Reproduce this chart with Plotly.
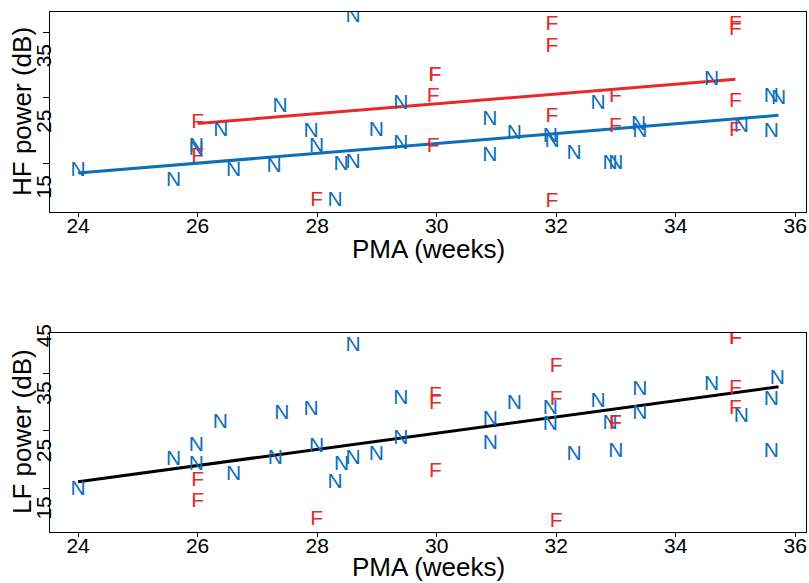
import plotly.graph_objects as go

# ---------------- data ----------------
# Top panel: HF power (dB)
hf_n_pma = [24.0, 25.6, 25.98, 25.98, 26.39, 26.6, 27.28, 27.38, 27.9, 27.99, 28.3, 28.4, 28.6, 28.6,
            28.99, 29.4, 29.4, 30.89, 30.89, 31.3, 31.9, 31.93, 32.3, 32.7, 32.9, 33.0, 33.38, 33.4,
            34.6, 35.1, 35.6, 35.6, 35.72]
hf_n_val = [18.9, 17.4, 22.5, 22.0, 25.0, 18.9, 19.4, 28.6, 24.8, 22.5, 14.35, 19.8, 42.3, 20.0,
            25.0, 29.1, 23.0, 26.6, 21.2, 24.5, 24.0, 23.25, 21.5, 29.1, 19.95, 19.85, 25.8, 24.8,
            32.7, 25.5, 30.1, 24.8, 29.9]
hf_f_pma = [26.0, 26.0, 27.99, 29.97, 29.97, 29.94, 29.94, 31.93, 31.93, 31.93, 31.93,
            32.99, 32.99, 35.0, 35.0, 35.0, 35.0]
hf_f_val = [26.1, 21.0, 14.35, 33.4, 33.4, 30.1, 22.5, 41.1, 37.8, 27.1, 14.1,
            30.1, 25.5, 41.1, 40.3, 29.4, 25.0]
hf_fit_n_x = [24.0, 35.72]
hf_fit_n_y = [18.5, 27.3]
hf_fit_f_x = [26.0, 35.0]
hf_fit_f_y = [26.05, 32.8]

# Bottom panel: LF power (dB)
lf_n_pma = [24.0, 25.6, 25.98, 25.98, 26.38, 26.6, 27.3, 27.41, 27.9, 27.99, 28.3, 28.41, 28.6, 28.6,
            28.99, 29.4, 29.4, 30.9, 30.9, 31.3, 31.9, 31.9, 32.3, 32.7, 32.9, 33.0, 33.4, 33.4,
            34.6, 35.1, 35.6, 35.6, 35.7]
lf_n_val = [19.7, 24.9, 27.5, 24.2, 31.4, 22.3, 25.2, 33.0, 33.7, 27.2, 20.9, 24.2, 44.9, 25.2,
            25.8, 35.65, 28.7, 31.9, 27.8, 34.8, 33.9, 31.0, 25.8, 35.1, 31.3, 26.4, 37.1, 33.0,
            38.1, 32.5, 35.4, 26.4, 39.1]
lf_f_pma = [26.0, 26.0, 27.99, 29.98, 29.98, 29.98, 32.0, 32.0, 32.0, 32.99, 32.99,
            35.0, 35.0, 35.0, 35.0]
lf_f_val = [21.4, 17.7, 14.5, 36.2, 34.8, 22.9, 41.2, 35.4, 14.2, 31.3, 31.3,
            46.1, 46.1, 37.4, 33.9]
lf_fit_x = [24.0, 35.72]
lf_fit_y = [21.15, 37.7]

x_ticks = [24, 26, 28, 30, 32, 34, 36]
hf_minor_ticks = [20, 30, 40]
hf_label_ticks = [15, 25, 35]
lf_minor_ticks = [20, 30, 40]
lf_label_ticks = [15, 25, 35, 45]

x_title = "PMA (weeks)"
hf_title = "HF power (dB)"
lf_title = "LF power (dB)"

BLUE = "#0B6FBA"
RED = "#E8282B"
FONT = "Liberation Sans, Arial, sans-serif"

fig = go.Figure()

def letters(x, y, ch, color, xa, ya):
    fig.add_trace(go.Scatter(x=x, y=y, mode="text", text=[ch] * len(x),
                             textposition="middle center",
                             textfont=dict(family=FONT, size=21, color=color),
                             xaxis=xa, yaxis=ya, showlegend=False, hoverinfo="skip"))

def line(x, y, color, xa, ya):
    fig.add_trace(go.Scatter(x=x, y=y, mode="lines", line=dict(color=color, width=3),
                             xaxis=xa, yaxis=ya, showlegend=False, hoverinfo="skip"))

# top
line(hf_fit_f_x, hf_fit_f_y, RED, "x", "y")
line(hf_fit_n_x, hf_fit_n_y, BLUE, "x", "y")
letters(hf_n_pma, hf_n_val, "N", BLUE, "x", "y")
letters(hf_f_pma, hf_f_val, "F", RED, "x", "y")
# bottom
line(lf_fit_x, lf_fit_y, "black", "x2", "y2")
letters(lf_n_pma, lf_n_val, "N", BLUE, "x2", "y2")
letters(lf_f_pma, lf_f_val, "F", RED, "x2", "y2")

W, H = 809.0, 583.0
L, R = 50.0, 3.0
top_dom = [1 - 212 / H, 1 - 12 / H]
bot_dom = [1 - 532 / H, 1 - 333 / H]
xr = [23.53, 36.18]
hf_r = [12.56, 43.05]
lf_r = [12.4, 47.06]

xcommon = dict(range=xr, tickvals=x_ticks, ticks="outside", ticklen=4, tickcolor="black",
               showline=True, linecolor="black", linewidth=1, mirror=True, showgrid=False,
               zeroline=False, tickfont=dict(family=FONT, size=21, color="black"),
               ticklabelstandoff=-9, automargin=False)
ycommon = dict(ticks="outside", ticklen=6, tickcolor="black", showticklabels=False,
               showline=True, linecolor="black", linewidth=1, mirror=True, showgrid=False,
               zeroline=False, automargin=False)
ylab = dict(ticks="", showline=False, showgrid=False, zeroline=False, tickangle=-90,
            tickfont=dict(family=FONT, size=21, color="black"), automargin=False, side="left",
            ticklabelstandoff=-6, ticklabelshift=-6)

fig.update_layout(
    width=809, height=583,
    margin=dict(l=L, r=R, t=0, b=0),
    paper_bgcolor="white", plot_bgcolor="white",
    xaxis=dict(domain=[0, 1], anchor="y", **xcommon),
    xaxis2=dict(domain=[0, 1], anchor="y2", **xcommon),
    yaxis=dict(domain=top_dom, anchor="x", range=hf_r, tickvals=hf_minor_ticks, **ycommon),
    yaxis2=dict(domain=bot_dom, anchor="x2", range=lf_r, tickvals=lf_minor_ticks, **ycommon),
    yaxis3=dict(overlaying="y", anchor="x", range=hf_r, tickvals=hf_label_ticks, **ylab),
    yaxis4=dict(overlaying="y2", anchor="x2", range=lf_r, tickvals=lf_label_ticks, **ylab),
)
fig.add_trace(go.Scatter(x=[None], y=[None], xaxis="x", yaxis="y3", showlegend=False))
fig.add_trace(go.Scatter(x=[None], y=[None], xaxis="x2", yaxis="y4", showlegend=False))

def px_x(px):
    return (px - L) / (W - L - R)

def px_y(py):
    return 1 - py / H

title_font = dict(family=FONT, size=26, color="black")
for ty in (249, 567):
    fig.add_annotation(text=x_title, x=0.5, y=px_y(ty), xref="paper", yref="paper",
                       xanchor="center", yanchor="middle", showarrow=False, font=title_font)
for txt, cy in ((hf_title, 112), (lf_title, 432)):
    fig.add_annotation(text=txt, x=px_x(22), y=px_y(cy), xref="paper", yref="paper",
                       xanchor="center", yanchor="middle", textangle=-90, showarrow=False,
                       font=title_font)

fig.write_html("out.html")
